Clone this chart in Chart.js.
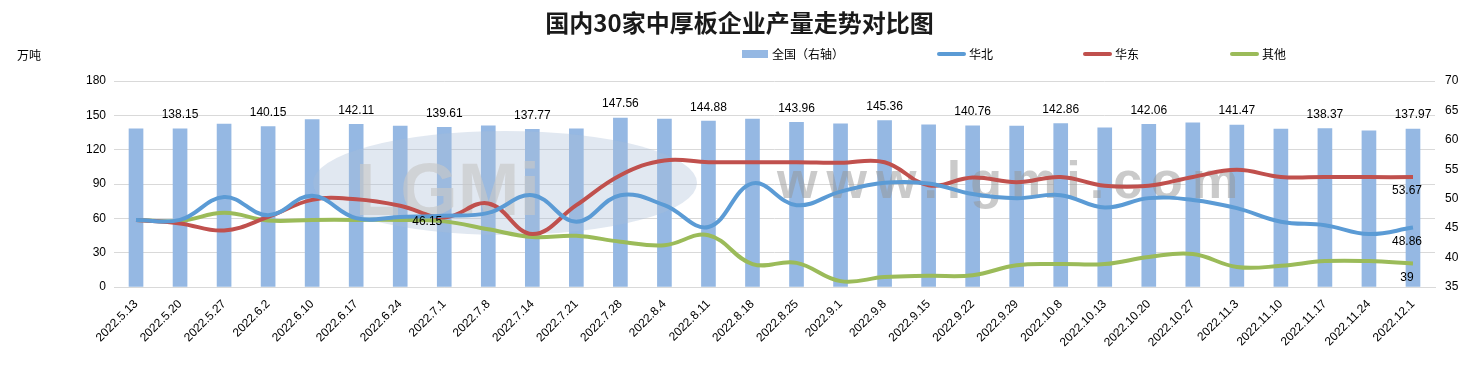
<!DOCTYPE html>
<html>
<head>
<meta charset="utf-8">
<script src="https://cdn.jsdelivr.net/npm/chart.js@4/dist/chart.umd.min.js"></script>
<style>
  body { margin: 0; background: #fff; }
  #wrap { position: relative; width: 1479px; height: 366px; font-family: "Noto Sans CJK SC", sans-serif; }
  #title { position: absolute; left: 0; top: 4px; width: 1479px; text-align: center; font-size: 24px; font-weight: bold; color: #1a1a1a; }
  #unit { position: absolute; left: 17px; top: 46px; font-size: 12px; color: #000; }
  .lg { position: absolute; top: 45px; font-size: 12px; color: #000; display: flex; align-items: center; }
  .sw-bar { width: 26px; height: 8px; background: #95b8e3; margin-right: 4px; }
  .sw-line { width: 29px; height: 4px; border-radius: 2px; margin-right: 3px; }
  canvas { position: absolute; left: 0; top: 0; }
</style>
</head>
<body>
<div id="wrap">
  <canvas id="c" width="1479" height="366"></canvas>
  <div id="title">国内30家中厚板企业产量走势对比图</div>
  <div id="unit">万吨</div>
  <div class="lg" style="left:742px"><span class="sw-bar"></span>全国（右轴）</div>
  <div class="lg" style="left:937px"><span class="sw-line" style="background:#5b9bd5"></span>华北</div>
  <div class="lg" style="left:1083px"><span class="sw-line" style="background:#c0504d"></span>华东</div>
  <div class="lg" style="left:1230px"><span class="sw-line" style="background:#9bbb59"></span>其他</div>
</div>
<script>
const dates = ['2022.5.13', '2022.5.20', '2022.5.27', '2022.6.2', '2022.6.10', '2022.6.17', '2022.6.24',
  '2022.7.1', '2022.7.8', '2022.7.14', '2022.7.21', '2022.7.28', '2022.8.4', '2022.8.11', '2022.8.18',
  '2022.8.25', '2022.9.1', '2022.9.8', '2022.9.15', '2022.9.22', '2022.9.29', '2022.10.8', '2022.10.13',
  '2022.10.20', '2022.10.27', '2022.11.3', '2022.11.10', '2022.11.17', '2022.11.24', '2022.12.1'];

const national = [138.1, 138.15, 142.4, 140.15, 146.2, 142.11, 140.7, 139.61, 140.8, 137.77,
  138.3, 147.56, 146.8, 144.88, 146.8, 143.96, 142.6, 145.36, 141.6, 140.76,
  140.6, 142.86, 139.1, 142.06, 143.4, 141.47, 138.0, 138.37, 136.4, 137.97];

const north = [46.4, 46.4, 50.3, 47.2, 50.5, 46.7, 46.9, 47.1, 47.6, 50.6,
  46.1, 50.6, 48.9, 45.2, 52.6, 48.9, 51.2, 52.7, 52.6, 50.8,
  50.1, 50.6, 48.5, 50.1, 49.8, 48.4, 46.1, 45.5, 44.0, 45.1];

const east = [46.4, 45.8, 44.6, 46.9, 49.8, 49.9, 48.8, 46.8, 49.2, 44.0,
  48.9, 54.0, 56.5, 56.2, 56.2, 56.2, 56.1, 56.2, 52.3, 53.6,
  52.8, 53.7, 52.2, 52.2, 53.7, 54.9, 53.7, 53.7, 53.67, 53.67];

const other = [46.4, 46.2, 47.6, 46.3, 46.4, 46.4, 46.4, 46.15, 44.8, 43.5,
  43.7, 42.7, 42.1, 43.8, 38.9, 39.1, 36.0, 36.7, 36.9, 37.0,
  38.7, 38.9, 38.9, 40.1, 40.6, 38.4, 38.6, 39.4, 39.4, 39];

const leftTicks = [0, 180, 30];
const rightTicks = [35, 70, 5];

// point labels on the lines: dataset index, point index, text
const lineLabels = [
  { series: 3, index: 7, text: '46.15' },
  { series: 2, index: 29, text: '53.67' },
  { series: 1, index: 29, text: '48.86' },
  { series: 3, index: 29, text: '39' }
];

const tickFont = { family: 'Liberation Sans', size: 12 };

// faint site watermark, painted right after the bars so the lines stay on top
const watermark = {
  id: 'watermark',
  afterDatasetDraw(chart, args) {
    if (args.index !== 0) return;
    const ctx = chart.ctx;
    ctx.save();
    ctx.fillStyle = 'rgba(170,190,215,0.35)';
    ctx.beginPath();
    ctx.ellipse(505, 183, 192, 52, 0, 0, Math.PI * 2);
    ctx.fill();
    ctx.font = 'bold 74px "Liberation Sans"';
    ctx.fillStyle = 'rgba(200,200,200,0.65)';
    ctx.textBaseline = 'alphabetic';
    ctx.fillText('LGMi', 355, 215);
    ctx.font = 'bold 52px "Liberation Sans"';
    ctx.letterSpacing = '9px';
    ctx.fillStyle = 'rgba(150,150,150,0.5)';
    ctx.fillText('www.lgmi.com', 777, 198);
    ctx.restore();
  }
};

const valueLabels = {
  id: 'valueLabels',
  afterDatasetsDraw(chart) {
    const ctx = chart.ctx;
    ctx.save();
    ctx.font = '12px "Liberation Sans"';
    ctx.fillStyle = '#000';
    ctx.textAlign = 'center';
    ctx.textBaseline = 'middle';
    chart.getDatasetMeta(0).data.forEach((el, i) => {
      if (i % 2 !== 1) return;
      ctx.fillText(national[i].toFixed(2), el.x, el.y - 14);
    });
    lineLabels.forEach(l => {
      const el = chart.getDatasetMeta(l.series).data[l.index];
      if (l.index === dates.length - 1) {
        ctx.textAlign = 'center';
        ctx.fillText(l.text, el.x - 6, el.y + 14);
      } else {
        ctx.textAlign = 'right';
        ctx.fillText(l.text, el.x - 2, el.y);
      }
    });
    ctx.restore();
  }
};

const lineSet = (label, data, color) => ({
  type: 'line',
  label,
  data,
  yAxisID: 'y1',
  borderColor: color,
  backgroundColor: color,
  borderWidth: 4,
  pointRadius: 0,
  tension: 0.4,
  fill: false,
  order: 1
});

new Chart(document.getElementById('c'), {
  data: {
    labels: dates,
    datasets: [
      {
        type: 'bar',
        label: '全国（右轴）',
        data: national,
        yAxisID: 'y',
        backgroundColor: '#95b8e3',
        barThickness: 14,
        order: 10
      },
      lineSet('华北', north, '#5b9bd5'),
      lineSet('华东', east, '#c0504d'),
      lineSet('其他', other, '#9bbb59')
    ]
  },
  options: {
    responsive: false,
    animation: false,
    layout: { padding: { top: 81, left: 0, right: 0, bottom: 0 } },
    plugins: { legend: { display: false }, tooltip: { enabled: false } },
    scales: {
      x: {
        grid: { display: false },
        border: { color: '#d9d9d9' },
        ticks: { color: '#000', font: tickFont, minRotation: 45, maxRotation: 45, autoSkip: false, padding: 2 },
        afterFit: s => { s.height = 79; }
      },
      y: {
        position: 'left',
        min: leftTicks[0], max: leftTicks[1],
        grid: { color: '#d9d9d9', drawTicks: false },
        border: { display: false },
        ticks: { stepSize: leftTicks[2], color: '#000', font: tickFont, padding: 8 },
        afterFit: s => { s.width = 114; }
      },
      y1: {
        position: 'right',
        min: rightTicks[0], max: rightTicks[1],
        grid: { drawOnChartArea: false, drawTicks: false },
        border: { display: false },
        ticks: { stepSize: rightTicks[2], color: '#000', font: tickFont, padding: 10 },
        afterFit: s => { s.width = 44; }
      }
    }
  },
  plugins: [watermark, valueLabels]
});
</script>
</body>
</html>
